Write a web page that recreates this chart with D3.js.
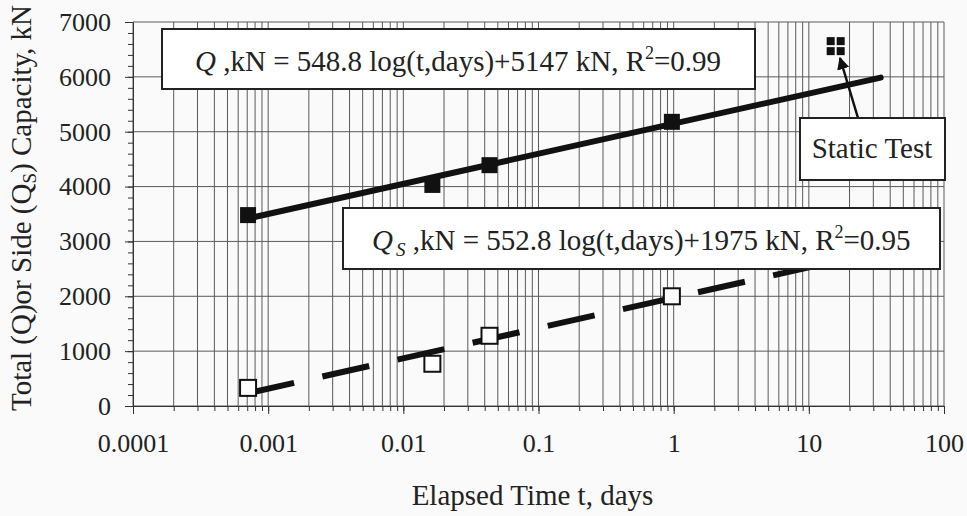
<!DOCTYPE html>
<html>
<head>
<meta charset="utf-8">
<script src="https://cdn.jsdelivr.net/npm/d3@7"></script>
<style>
  html, body { margin: 0; padding: 0; background: #fafafa; }
  svg { display: block; }
</style>
</head>
<body>
<svg id="chart" width="967" height="516"></svg>
<script>
// ---- data ----
const xTickValues = [1e-4, 1e-3, 1e-2, 1e-1, 1, 10, 100];
const xTickLabels = ["0.0001", "0.001", "0.01", "0.1", "1", "10", "100"];
const yTickValues = [0, 1000, 2000, 3000, 4000, 5000, 6000, 7000];

const tDays   = [0.00071, 0.0164, 0.0434, 0.97];
const totalQ  = [3480, 4030, 4390, 5180];
const sideQs  = [330, 770, 1280, 2000];

const staticT = [15.8];
const staticQ = [6560];

const fitT    = [0.0007, 34];
const fitQ    = [3416, 5987];
const fitQs   = [231, 2821];

// ---- layout ----
const W = 967, H = 516;
const m = { left: 133, right: 23, top: 22, bottom: 110 };
const svg = d3.select("#chart");
const g = svg.append("g").attr("transform", `translate(${m.left},${m.top})`);
const iw = W - m.left - m.right, ih = H - m.top - m.bottom;
const FONT = "'Liberation Serif', 'DejaVu Serif', serif";

const x = d3.scaleLog().domain([1e-4, 100]).range([0, iw]);
const y = d3.scaleLinear().domain([0, 7000]).range([ih, 0]);

// grid
const minorX = [];
for (let e = -4; e < 2; e++) for (let k = 1; k <= 9; k++) minorX.push(k * Math.pow(10, e));
minorX.push(100);
g.append("g").selectAll("line").data(minorX).join("line")
  .attr("x1", d => x(d)).attr("x2", d => x(d))
  .attr("y1", y(0)).attr("y2", y(7000))
  .attr("stroke", "#5a5a5a").attr("stroke-width", 1);
g.append("g").selectAll("line").data(yTickValues).join("line")
  .attr("x1", 0).attr("x2", iw)
  .attr("y1", d => y(d)).attr("y2", d => y(d))
  .attr("stroke", "#5a5a5a").attr("stroke-width", 1);

// axes
const xAxis = g.append("g").attr("transform", `translate(0,${ih})`)
  .call(d3.axisBottom(x).tickValues(xTickValues)
        .tickFormat((d, i) => xTickLabels[i]).tickSize(8).tickSizeOuter(0));
xAxis.attr("font-family", null);
xAxis.selectAll("text").style("font-family", FONT).style("font-size", "26px")
  .attr("fill", "#222").attr("dy", "1.35em");
g.append("g").attr("transform", `translate(0,${ih})`)
  .call(d3.axisBottom(x).tickValues(minorX).tickFormat("").tickSize(5).tickSizeOuter(0))
  .select(".domain").remove();

const yAxis = g.append("g")
  .call(d3.axisLeft(y).tickValues(yTickValues).tickFormat(d3.format("d"))
        .tickSize(8).tickSizeOuter(0).tickPadding(14));
yAxis.attr("font-family", null);
yAxis.selectAll("text").style("font-family", FONT).style("font-size", "26px").attr("fill", "#222");
g.append("g")
  .call(d3.axisLeft(y).tickValues(d3.range(0, 7001, 200)).tickFormat("").tickSize(5).tickSizeOuter(0))
  .select(".domain").remove();
g.selectAll(".domain").attr("stroke", "#333");
g.selectAll(".tick line").attr("stroke", "#333");

// fit lines
const line = d3.line().x(d => x(d[0])).y(d => y(d[1]));
g.append("path").datum(fitT.map((t, i) => [t, fitQ[i]]))
  .attr("d", line).attr("stroke", "#111").attr("stroke-width", 6).attr("fill", "none")
  .attr("stroke-linecap", "round");
g.append("path").datum(fitT.map((t, i) => [t, fitQs[i]]))
  .attr("d", line).attr("stroke", "#111").attr("stroke-width", 6).attr("fill", "none")
  .attr("stroke-dasharray", "48,29");

// markers
const S = 16;
g.append("g").selectAll("rect").data(tDays).join("rect")
  .attr("x", (d) => x(d) - S / 2).attr("y", (d, i) => y(totalQ[i]) - S / 2)
  .attr("width", S).attr("height", S).attr("fill", "#111");
g.append("g").selectAll("rect").data(tDays).join("rect")
  .attr("x", (d) => x(d) - S / 2).attr("y", (d, i) => y(sideQs[i]) - S / 2)
  .attr("width", S).attr("height", S).attr("fill", "#fff")
  .attr("stroke", "#111").attr("stroke-width", 2);

// static test marker (2x2 small squares)
staticT.forEach((t, i) => {
  const cx = x(t), cy = y(staticQ[i]);
  [[-1, -1], [1, -1], [-1, 1], [1, 1]].forEach(([a, b]) => {
    g.append("rect").attr("x", cx + (a < 0 ? -9 : 1)).attr("y", cy + (b < 0 ? -9 : 1))
      .attr("width", 8).attr("height", 8).attr("fill", "#111");
  });
});

// boxes
function box(x0, y0, w, h) {
  return svg.append("rect").attr("x", x0).attr("y", y0).attr("width", w).attr("height", h)
    .attr("fill", "#fff").attr("stroke", "#222").attr("stroke-width", 2);
}
function txt(sel) { return sel.style("font-family", FONT).attr("fill", "#222"); }

box(343, 208, 597, 61);
const t2 = txt(svg.append("text").attr("x", 372).attr("y", 250).style("font-size", "29px"));
t2.append("tspan").style("font-style", "italic").text("Q");
t2.append("tspan").style("font-style", "italic").style("font-size", "19px").attr("dy", 6).attr("dx", 3).text("S");
t2.append("tspan").attr("dy", -6).text(" ,kN = 552.8 log(t,days)+1975 kN, R");
t2.append("tspan").style("font-size", "18px").attr("dy", -12).text("2");
t2.append("tspan").attr("dy", 12).text("=0.95");

box(162, 29, 593, 60);
const t1 = txt(svg.append("text").attr("x", 195).attr("y", 71).style("font-size", "29px"));
t1.append("tspan").style("font-style", "italic").text("Q");
t1.append("tspan").text(" ,kN = 548.8 log(t,days)+5147 kN, R");
t1.append("tspan").style("font-size", "18px").attr("dy", -12).text("2");
t1.append("tspan").attr("dy", 12).text("=0.99");

// Static test annotation
svg.append("defs").append("marker").attr("id", "arr").attr("viewBox", "0 0 10 10")
  .attr("refX", 9).attr("refY", 5).attr("markerWidth", 5).attr("markerHeight", 5)
  .attr("orient", "auto").append("path").attr("d", "M0,0 L10,5 L0,10 z").attr("fill", "#111");
svg.append("line").attr("x1", 858).attr("y1", 118).attr("x2", 840).attr("y2", 58)
  .attr("stroke", "#111").attr("stroke-width", 2.5).attr("marker-end", "url(#arr)");
box(800, 118, 145, 62);
txt(svg.append("text").attr("x", 872).attr("y", 158).attr("text-anchor", "middle")
  .style("font-size", "29px")).text("Static Test");

// axis titles
txt(svg.append("text").attr("x", m.left + iw / 2 - 6).attr("y", 505).attr("text-anchor", "middle")
  .style("font-size", "29px")).text("Elapsed Time t, days");
const yt = txt(svg.append("text").attr("transform", `translate(31,${m.top + ih / 2 - 6}) rotate(-90)`)
  .attr("text-anchor", "middle").style("font-size", "29px"));
yt.append("tspan").text("Total (Q)or Side (Q");
yt.append("tspan").style("font-size", "19px").attr("dy", 5).text("S");
yt.append("tspan").attr("dy", -5).text(") Capacity, kN");
</script>
</body>
</html>
